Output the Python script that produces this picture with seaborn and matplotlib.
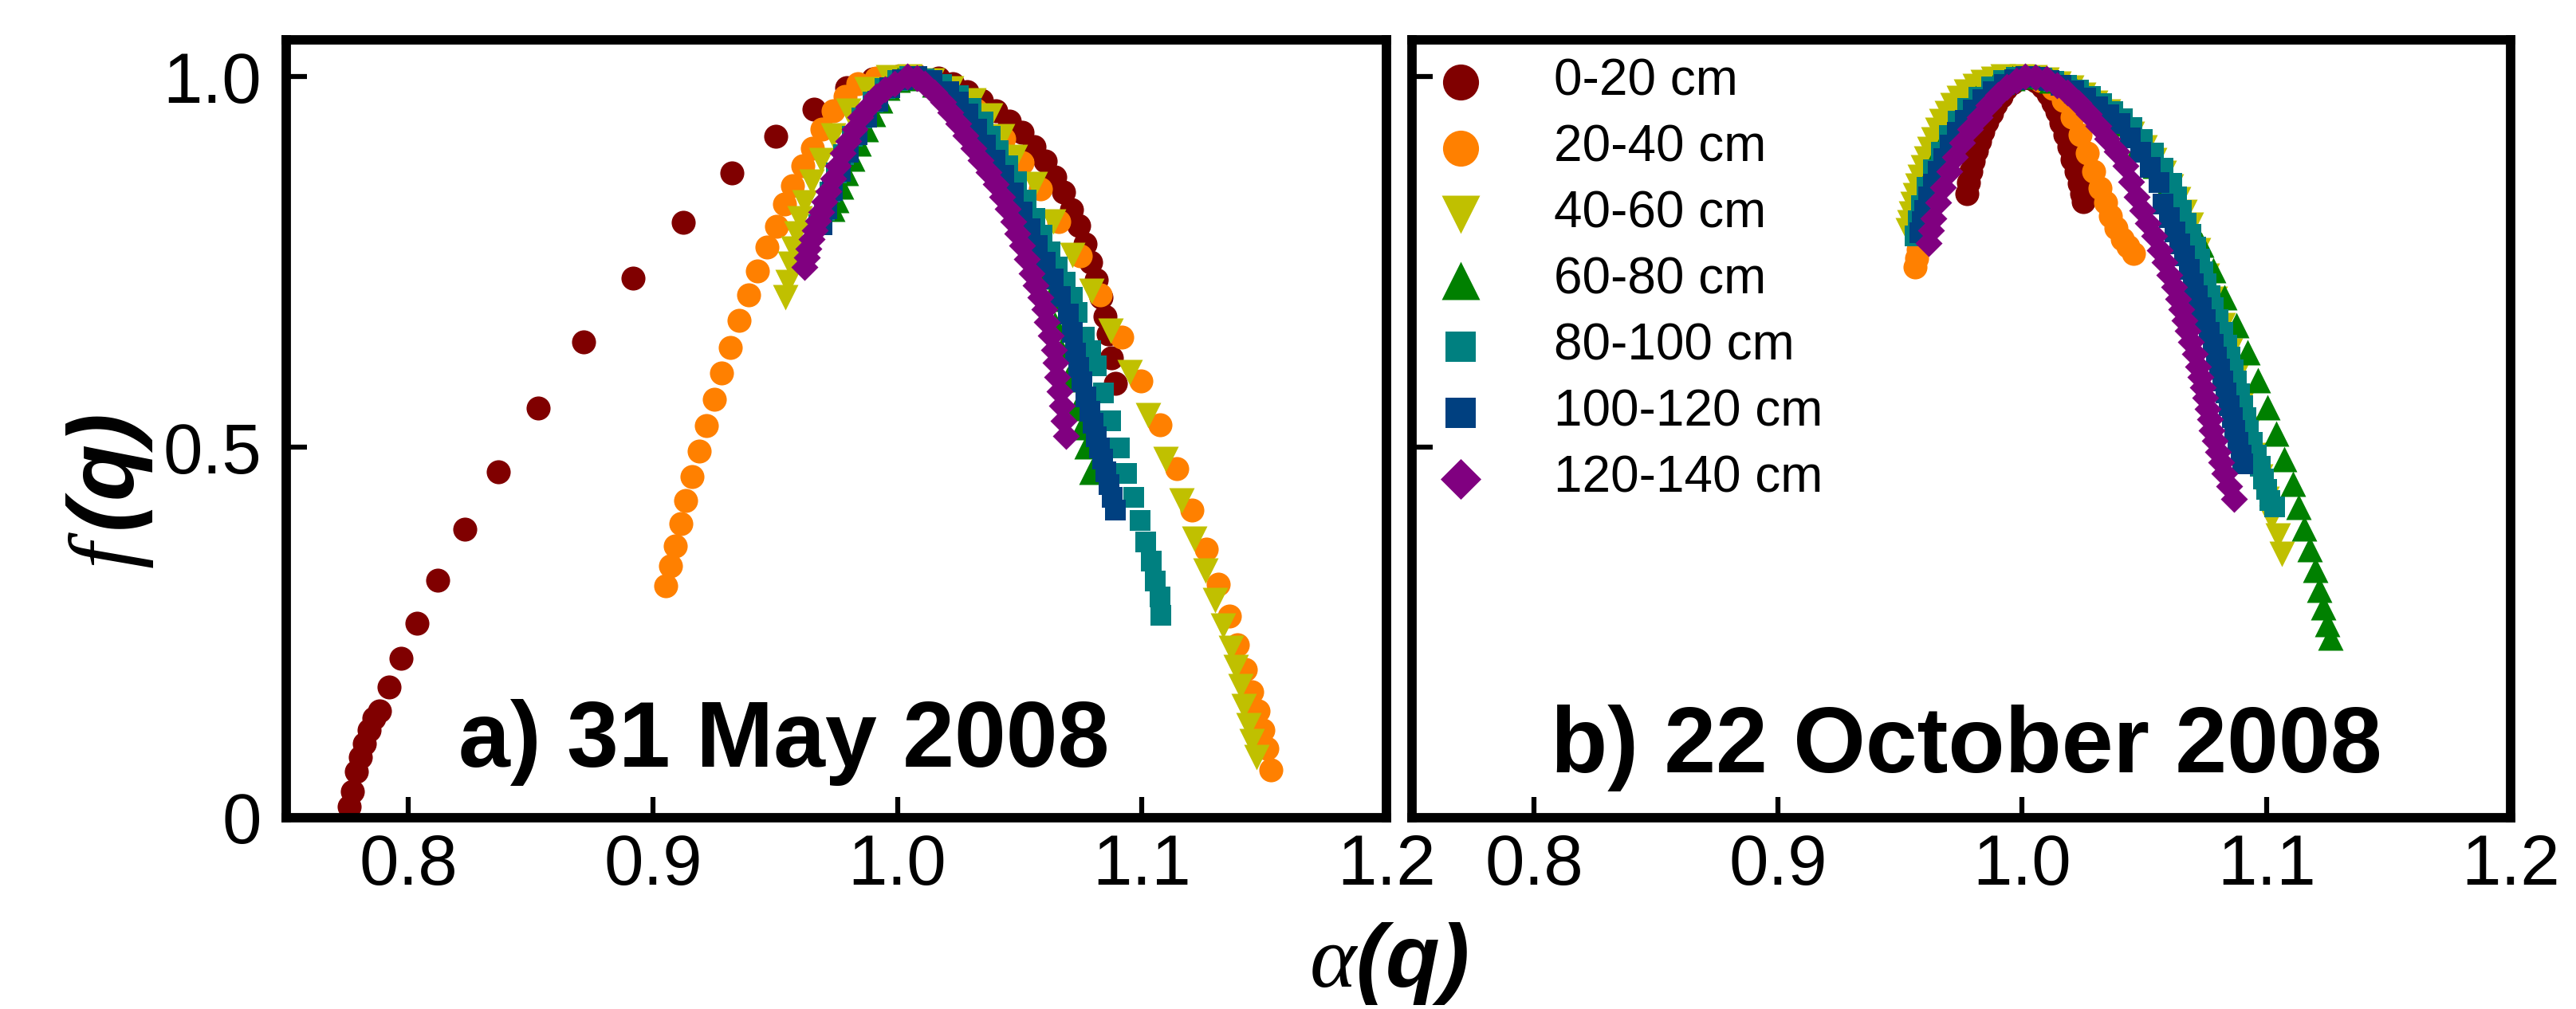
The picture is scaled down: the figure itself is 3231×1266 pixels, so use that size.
import pandas as pd
import seaborn as sns
import matplotlib
matplotlib.use("Agg")
import matplotlib.pyplot as plt

depths = ["0-20 cm", "20-40 cm", "40-60 cm", "60-80 cm", "80-100 cm", "100-120 cm", "120-140 cm"]
colors = ["#800000", "#FF8000", "#C0C000", "#008000", "#008080", "#004080", "#800080"]
markers = ["o", "o", "v", "^", "s", "s", "D"]
marker_area = [470, 470, 530, 530, 340, 340, 300]

x_ticks = [0.8, 0.9, 1.0, 1.1, 1.2]
x_tick_labels = ["0.8", "0.9", "1.0", "1.1", "1.2"]
y_ticks = [0, 0.5, 1.0]
y_tick_labels = ["0", "0.5", "1.0"]

# ---- a) 31 May 2008 ----
may_alpha_0_20 = [0.7757, 0.7772, 0.7788, 0.7803, 0.7819, 0.7839, 0.7858, 0.7882, 0.7920, 0.7969,
                  0.8036, 0.8120, 0.8231, 0.8368, 0.8531, 0.8718, 0.8919, 0.9125, 0.9323, 0.9503,
                  0.9660, 0.9793, 0.9900, 1.0000, 1.0085, 1.0168, 1.0227, 1.0285, 1.0344, 1.0403,
                  1.0458, 1.0510, 1.0559, 1.0605, 1.0644, 1.0680, 1.0713, 1.0742, 1.0768, 1.0791,
                  1.0814, 1.0833, 1.0850, 1.0863, 1.0876, 1.0892]
may_f_0_20 = [0.015, 0.036, 0.062, 0.082, 0.100, 0.118, 0.134, 0.144, 0.176, 0.215,
              0.263, 0.321, 0.389, 0.467, 0.553, 0.642, 0.728, 0.804, 0.870, 0.920,
              0.956, 0.985, 0.997, 1.000, 1.000, 0.998, 0.991, 0.980, 0.968, 0.954,
              0.940, 0.925, 0.906, 0.886, 0.865, 0.844, 0.821, 0.799, 0.775, 0.750,
              0.726, 0.702, 0.677, 0.653, 0.621, 0.586]

may_alpha_20_40 = [0.9053, 0.9072, 0.9090, 0.9114, 0.9134, 0.9161, 0.9189, 0.9219, 0.9250, 0.9282,
                   0.9317, 0.9353, 0.9390, 0.9428, 0.9465, 0.9504, 0.9537, 0.9572, 0.9612, 0.9652,
                   0.9693, 0.9737, 0.9787, 0.9837, 0.9912, 1.0000, 1.0105, 1.0205, 1.0320, 1.0436,
                   1.0511, 1.0586, 1.0661, 1.0748, 1.0829, 1.0918, 1.0997, 1.1073, 1.1144, 1.1204,
                   1.1263, 1.1312, 1.1357, 1.1390, 1.1423, 1.1449, 1.1476, 1.1495, 1.1511, 1.1528]
may_f_20_40 = [0.313, 0.340, 0.367, 0.397, 0.428, 0.460, 0.495, 0.529, 0.565, 0.600,
               0.635, 0.671, 0.706, 0.738, 0.770, 0.798, 0.828, 0.853, 0.880, 0.904,
               0.929, 0.954, 0.974, 0.991, 0.998, 1.000, 0.996, 0.985, 0.955, 0.917,
               0.884, 0.849, 0.805, 0.758, 0.706, 0.649, 0.590, 0.530, 0.471, 0.415,
               0.363, 0.315, 0.272, 0.233, 0.200, 0.170, 0.144, 0.118, 0.094, 0.064]

may_alpha_40_60 = [0.9540, 0.9550, 0.9562, 0.9575, 0.9587, 0.9600, 0.9619, 0.9650, 0.9687, 0.9737,
                   0.9799, 0.9874, 0.9962, 1.0050, 1.0140, 1.0220, 1.0311, 1.0380, 1.0430, 1.0480,
                   1.0561, 1.0636, 1.0717, 1.0795, 1.0871, 1.0951, 1.1026, 1.1096, 1.1161, 1.1213,
                   1.1259, 1.1299, 1.1331, 1.1364, 1.1384, 1.1403, 1.1417, 1.1436, 1.1449, 1.1469]
may_f_40_60 = [0.702, 0.723, 0.748, 0.768, 0.789, 0.809, 0.830, 0.859, 0.888, 0.921,
               0.954, 0.983, 0.999, 1.000, 0.995, 0.984, 0.968, 0.948, 0.920, 0.892,
               0.855, 0.805, 0.760, 0.711, 0.657, 0.601, 0.543, 0.484, 0.428, 0.376,
               0.333, 0.294, 0.259, 0.229, 0.203, 0.177, 0.151, 0.125, 0.103, 0.082]

may_alpha_60_80 = [0.9735, 0.9750, 0.9770, 0.9790, 0.9815, 0.9840, 0.9870, 0.9900, 0.9930, 0.9960,
                   1.0000, 1.0040, 1.0090, 1.0150, 1.0210, 1.0270, 1.0330, 1.0380, 1.0425, 1.0465,
                   1.0500, 1.0530, 1.0555, 1.0580, 1.0605, 1.0625, 1.0645, 1.0670, 1.0696, 1.0735,
                   1.0755, 1.0774, 1.0794]
may_f_60_80 = [0.822, 0.834, 0.852, 0.870, 0.890, 0.910, 0.930, 0.950, 0.968, 0.985,
               0.996, 1.000, 0.998, 0.990, 0.977, 0.960, 0.940, 0.917, 0.893, 0.868,
               0.842, 0.815, 0.788, 0.760, 0.730, 0.700, 0.666, 0.630, 0.592, 0.553,
               0.527, 0.501, 0.467]

may_alpha_80_100 = [0.9680, 0.9700, 0.9725, 0.9750, 0.9780, 0.9815, 0.9855, 0.9900, 0.9950, 1.0000,
                    1.0050, 1.0110, 1.0180, 1.0250, 1.0300, 1.0349, 1.0380, 1.0411, 1.0450, 1.0486,
                    1.0525, 1.0561, 1.0592, 1.0623, 1.0655, 1.0686, 1.0715, 1.0735, 1.0765, 1.0790,
                    1.0814, 1.0842, 1.0873, 1.0908, 1.0938, 1.0967, 1.0993, 1.1017, 1.1037, 1.1056,
                    1.1073, 1.1076]
may_f_80_100 = [0.800, 0.820, 0.845, 0.870, 0.895, 0.920, 0.945, 0.966, 0.984, 0.995,
                1.000, 0.997, 0.990, 0.975, 0.958, 0.939, 0.920, 0.900, 0.880, 0.859,
                0.834, 0.809, 0.786, 0.764, 0.743, 0.723, 0.702, 0.682, 0.649, 0.630,
                0.610, 0.573, 0.536, 0.499, 0.465, 0.432, 0.401, 0.372, 0.346, 0.320,
                0.298, 0.273]

may_alpha_100_120 = [0.9690, 0.9710, 0.9735, 0.9765, 0.9800, 0.9835, 0.9875, 0.9920, 0.9970, 1.0020,
                     1.0080, 1.0140, 1.0210, 1.0250, 1.0287, 1.0325, 1.0361, 1.0400, 1.0436, 1.0475,
                     1.0511, 1.0542, 1.0573, 1.0605, 1.0636, 1.0667, 1.0698, 1.0715, 1.0729, 1.0742,
                     1.0755, 1.0770, 1.0788, 1.0800, 1.0814, 1.0827, 1.0840, 1.0853, 1.0866, 1.0878,
                     1.0890]
may_f_100_120 = [0.800, 0.822, 0.847, 0.873, 0.898, 0.922, 0.946, 0.967, 0.985, 0.996,
                 1.000, 0.995, 0.980, 0.966, 0.950, 0.929, 0.908, 0.888, 0.867, 0.843,
                 0.818, 0.795, 0.772, 0.750, 0.727, 0.704, 0.680, 0.655, 0.627, 0.608,
                 0.588, 0.568, 0.549, 0.532, 0.514, 0.499, 0.484, 0.467, 0.450, 0.432,
                 0.415]

may_alpha_120_140 = [0.9619, 0.9628, 0.9637, 0.9650, 0.9662, 0.9675, 0.9687, 0.9702, 0.9718, 0.9737,
                     0.9756, 0.9777, 0.9799, 0.9824, 0.9849, 0.9880, 0.9912, 0.9950, 0.9987, 1.0040,
                     1.0080, 1.0112, 1.0150, 1.0187, 1.0218, 1.0249, 1.0280, 1.0311, 1.0342, 1.0373,
                     1.0402, 1.0430, 1.0452, 1.0473, 1.0492, 1.0511, 1.0530, 1.0548, 1.0567, 1.0586,
                     1.0600, 1.0612, 1.0626, 1.0640, 1.0648, 1.0655, 1.0664, 1.0672, 1.0681, 1.0690]
may_f_120_140 = [0.743, 0.756, 0.768, 0.781, 0.793, 0.806, 0.818, 0.832, 0.846, 0.863,
                 0.880, 0.897, 0.913, 0.930, 0.946, 0.960, 0.974, 0.983, 0.991, 1.000,
                 0.998, 0.991, 0.979, 0.966, 0.952, 0.937, 0.921, 0.904, 0.888, 0.871,
                 0.855, 0.838, 0.822, 0.805, 0.789, 0.772, 0.754, 0.735, 0.719, 0.702,
                 0.686, 0.669, 0.651, 0.632, 0.614, 0.595, 0.576, 0.556, 0.536, 0.515]

# ---- b) 22 October 2008 ----
oct_alpha_0_20 = [0.9772, 0.9780, 0.9790, 0.9800, 0.9812, 0.9825, 0.9840, 0.9856, 0.9873, 0.9892,
                  0.9912, 0.9934, 0.9958, 0.9982, 1.0006, 1.0032, 1.0058, 1.0083, 1.0105, 1.0125,
                  1.0143, 1.0160, 1.0176, 1.0191, 1.0205, 1.0219, 1.0232, 1.0243, 1.0251]
oct_f_0_20 = [0.842, 0.857, 0.872, 0.886, 0.900, 0.913, 0.926, 0.939, 0.951, 0.963,
              0.974, 0.984, 0.992, 0.998, 1.000, 0.998, 0.994, 0.987, 0.977, 0.965,
              0.953, 0.938, 0.922, 0.906, 0.889, 0.872, 0.856, 0.842, 0.832]

oct_alpha_20_40 = [0.9560, 0.9566, 0.9573, 0.9581, 0.9592, 0.9605, 0.9620, 0.9638, 0.9660, 0.9686,
                   0.9716, 0.9752, 0.9795, 0.9845, 0.9900, 0.9960, 1.0020, 1.0075, 1.0125, 1.0168,
                   1.0205, 1.0237, 1.0266, 1.0292, 1.0317, 1.0340, 1.0362, 1.0385, 1.0410, 1.0433,
                   1.0455]
oct_f_20_40 = [0.743, 0.755, 0.767, 0.780, 0.795, 0.812, 0.830, 0.850, 0.872, 0.895,
               0.918, 0.940, 0.961, 0.979, 0.992, 0.999, 1.000, 0.995, 0.984, 0.968,
               0.946, 0.922, 0.897, 0.873, 0.850, 0.830, 0.812, 0.796, 0.781, 0.771,
               0.762]

oct_alpha_40_60 = [0.9531, 0.9538, 0.9545, 0.9552, 0.9560, 0.9570, 0.9580, 0.9592, 0.9605, 0.9620,
                   0.9635, 0.9652, 0.9670, 0.9692, 0.9715, 0.9742, 0.9770, 0.9805, 0.9840, 0.9880,
                   0.9920, 0.9960, 1.0000, 1.0050, 1.0100, 1.0150, 1.0200, 1.0250, 1.0300, 1.0350,
                   1.0400, 1.0450, 1.0500, 1.0540, 1.0580, 1.0610, 1.0640, 1.0665, 1.0690, 1.0720,
                   1.0755, 1.0790, 1.0820, 1.0850, 1.0875, 1.0900, 1.0925, 1.0950, 1.0975, 1.1000,
                   1.1020, 1.1046, 1.1062]
oct_f_40_60 = [0.793, 0.804, 0.815, 0.828, 0.840, 0.853, 0.865, 0.878, 0.890, 0.903,
               0.915, 0.928, 0.940, 0.951, 0.962, 0.972, 0.980, 0.988, 0.993, 0.997,
               1.000, 0.999, 1.000, 0.999, 0.996, 0.991, 0.985, 0.976, 0.965, 0.953,
               0.940, 0.923, 0.905, 0.888, 0.870, 0.852, 0.835, 0.818, 0.800, 0.766,
               0.732, 0.700, 0.665, 0.630, 0.595, 0.560, 0.525, 0.490, 0.460, 0.430,
               0.405, 0.381, 0.356]

oct_alpha_60_80 = [0.9570, 0.9585, 0.9605, 0.9630, 0.9660, 0.9700, 0.9750, 0.9810, 0.9880, 0.9960,
                   1.0050, 1.0120, 1.0220, 1.0320, 1.0405, 1.0480, 1.0545, 1.0598, 1.0640, 1.0673,
                   1.0734, 1.0783, 1.0827, 1.0877, 1.0921, 1.0964, 1.1004, 1.1039, 1.1074, 1.1108,
                   1.1133, 1.1155, 1.1176, 1.1199, 1.1218, 1.1233, 1.1249, 1.1261]
oct_f_60_80 = [0.800, 0.825, 0.850, 0.875, 0.900, 0.925, 0.950, 0.972, 0.988, 0.998,
               1.000, 0.995, 0.982, 0.962, 0.937, 0.908, 0.880, 0.855, 0.830, 0.805,
               0.774, 0.739, 0.702, 0.665, 0.628, 0.591, 0.554, 0.519, 0.484, 0.451,
               0.420, 0.391, 0.362, 0.335, 0.308, 0.284, 0.261, 0.243]

oct_alpha_80_100 = [0.9562, 0.9575, 0.9587, 0.9610, 0.9637, 0.9668, 0.9700, 0.9737, 0.9775, 0.9822,
                    0.9874, 0.9924, 0.9974, 1.0030, 1.0080, 1.0130, 1.0180, 1.0230, 1.0280, 1.0325,
                    1.0370, 1.0410, 1.0448, 1.0492, 1.0536, 1.0575, 1.0611, 1.0632, 1.0652, 1.0671,
                    1.0690, 1.0709, 1.0727, 1.0740, 1.0752, 1.0768, 1.0783, 1.0802, 1.0821, 1.0837,
                    1.0852, 1.0865, 1.0877, 1.0890, 1.0902, 1.0915, 1.0927, 1.0943, 1.0958, 1.0974,
                    1.0989, 1.1002, 1.1014, 1.1033]
oct_f_80_100 = [0.785, 0.806, 0.826, 0.851, 0.875, 0.898, 0.921, 0.940, 0.958, 0.973,
                0.987, 0.995, 0.999, 1.000, 0.998, 0.994, 0.989, 0.982, 0.974, 0.964,
                0.953, 0.943, 0.932, 0.915, 0.897, 0.877, 0.856, 0.838, 0.820, 0.803,
                0.787, 0.770, 0.754, 0.737, 0.721, 0.705, 0.688, 0.672, 0.655, 0.638,
                0.622, 0.605, 0.589, 0.572, 0.556, 0.540, 0.523, 0.507, 0.490, 0.474,
                0.457, 0.443, 0.428, 0.420]

oct_alpha_100_120 = [0.9580, 0.9590, 0.9600, 0.9615, 0.9635, 0.9655, 0.9680, 0.9705, 0.9735, 0.9765,
                     0.9800, 0.9840, 0.9880, 0.9925, 0.9970, 1.0015, 1.0060, 1.0110, 1.0160, 1.0210,
                     1.0260, 1.0310, 1.0355, 1.0399, 1.0443, 1.0486, 1.0524, 1.0561, 1.0577, 1.0602,
                     1.0627, 1.0646, 1.0665, 1.0684, 1.0702, 1.0718, 1.0734, 1.0750, 1.0765, 1.0781,
                     1.0796, 1.0809, 1.0821, 1.0834, 1.0846, 1.0859, 1.0871, 1.0884, 1.0896, 1.0902]
oct_f_100_120 = [0.790, 0.805, 0.820, 0.838, 0.855, 0.872, 0.890, 0.908, 0.925, 0.941,
                 0.955, 0.969, 0.980, 0.990, 0.996, 1.000, 0.999, 0.995, 0.989, 0.981,
                 0.971, 0.960, 0.949, 0.937, 0.918, 0.898, 0.878, 0.857, 0.828, 0.810,
                 0.791, 0.775, 0.758, 0.740, 0.721, 0.705, 0.688, 0.672, 0.655, 0.639,
                 0.622, 0.606, 0.589, 0.573, 0.556, 0.540, 0.523, 0.507, 0.490, 0.478]

oct_alpha_120_140 = [0.9618, 0.9627, 0.9637, 0.9655, 0.9675, 0.9700, 0.9725, 0.9755, 0.9787, 0.9824,
                     0.9862, 0.9900, 0.9937, 0.9975, 1.0012, 1.0055, 1.0099, 1.0143, 1.0186, 1.0230,
                     1.0274, 1.0312, 1.0349, 1.0387, 1.0424, 1.0447, 1.0470, 1.0493, 1.0515, 1.0540,
                     1.0565, 1.0584, 1.0602, 1.0621, 1.0640, 1.0653, 1.0665, 1.0678, 1.0690, 1.0706,
                     1.0721, 1.0731, 1.0740, 1.0749, 1.0758, 1.0768, 1.0777, 1.0790, 1.0802, 1.0815,
                     1.0827, 1.0847, 1.0867]
oct_f_120_140 = [0.776, 0.793, 0.809, 0.830, 0.851, 0.872, 0.892, 0.911, 0.929, 0.946,
                 0.962, 0.976, 0.987, 0.995, 1.000, 0.999, 0.997, 0.989, 0.979, 0.965,
                 0.950, 0.934, 0.917, 0.899, 0.880, 0.859, 0.838, 0.820, 0.803, 0.785,
                 0.766, 0.750, 0.733, 0.717, 0.700, 0.686, 0.671, 0.657, 0.642, 0.626,
                 0.609, 0.595, 0.581, 0.567, 0.552, 0.538, 0.523, 0.509, 0.494, 0.480,
                 0.465, 0.448, 0.430]


def build_frame(series, panel):
    parts = []
    for depth, (alpha, f) in zip(depths, series):
        parts.append(pd.DataFrame({"alpha": alpha, "f": f, "depth": depth, "panel": panel}))
    return pd.concat(parts, ignore_index=True)


def main():
    may = build_frame([
        (may_alpha_0_20, may_f_0_20), (may_alpha_20_40, may_f_20_40),
        (may_alpha_40_60, may_f_40_60), (may_alpha_60_80, may_f_60_80),
        (may_alpha_80_100, may_f_80_100), (may_alpha_100_120, may_f_100_120),
        (may_alpha_120_140, may_f_120_140)], "may")
    octo = build_frame([
        (oct_alpha_0_20, oct_f_0_20), (oct_alpha_20_40, oct_f_20_40),
        (oct_alpha_40_60, oct_f_40_60), (oct_alpha_60_80, oct_f_60_80),
        (oct_alpha_80_100, oct_f_80_100), (oct_alpha_100_120, oct_f_100_120),
        (oct_alpha_120_140, oct_f_120_140)], "oct")
    df = pd.concat([may, octo], ignore_index=True)

    sns.set_theme(style="ticks")
    plt.rcParams["font.family"] = ["Liberation Sans", "DejaVu Sans"]
    plt.rcParams["text.color"] = "black"
    plt.rcParams["axes.labelcolor"] = "black"
    plt.rcParams["mathtext.fontset"] = "custom"
    plt.rcParams["mathtext.rm"] = "Liberation Sans"
    plt.rcParams["mathtext.it"] = "Liberation Serif:italic"
    plt.rcParams["mathtext.bf"] = "Liberation Sans:bold:italic"

    fig = plt.figure(figsize=(32.31, 12.66), dpi=100)
    ax_a = fig.add_axes([0.1111, 0.1896, 0.4271, 0.7709])
    ax_b = fig.add_axes([0.5481, 0.1896, 0.4265, 0.7709])

    for ax, panel in [(ax_a, "may"), (ax_b, "oct")]:
        for i, depth in enumerate(depths):
            sub = df[(df["panel"] == panel) & (df["depth"] == depth)]
            sns.scatterplot(data=sub, x="alpha", y="f", color=colors[i], marker=markers[i],
                            s=marker_area[i], linewidth=0, ax=ax, legend=False,
                            label=depth if panel == "oct" else None)
        ax.set_xlim(0.75, 1.2)
        ax.set_ylim(0, 1.05)
        ax.set_xticks(x_ticks)
        ax.set_xticklabels(x_tick_labels)
        ax.set_yticks(y_ticks)
        ax.set_xlabel("")
        ax.set_ylabel("")
        for sp in ax.spines.values():
            sp.set_visible(True)
            sp.set_linewidth(8.5)
            sp.set_color("black")
        ax.tick_params(axis="both", direction="in", length=19, width=4.5, labelsize=64,
                       color="black", labelcolor="black")
        ax.tick_params(axis="x", pad=14)
        ax.tick_params(axis="y", pad=22)

    ax_a.set_yticklabels(y_tick_labels)
    ax_b.set_yticklabels([])

    ax_a.text(0.1565, 0.0656, "a) 31 May 2008", transform=ax_a.transAxes, color="black",
              fontsize=84, fontweight="bold", va="baseline", ha="left")
    ax_b.text(0.1266, 0.0584, "b) 22 October 2008", transform=ax_b.transAxes, color="black",
              fontsize=84, fontweight="bold", va="baseline", ha="left")

    ax_b.legend(loc="upper left", bbox_to_anchor=(0.021, 0.977), borderaxespad=0,
                borderpad=0, frameon=False, handlelength=1.0, handletextpad=1.33,
                labelspacing=0.36, markerscale=1.5, fontsize=46, labelcolor="black")

    fig.text(0.0427, 0.513, r"$f\,\mathbf{(q)}$", rotation=90, fontsize=84,
             ha="center", va="center", color="black")
    fig.text(0.539, 0.022, r"$\alpha\mathbf{(q)}$", fontsize=80,
             ha="center", va="baseline", color="black")

    fig.savefig("out.png", dpi=100)
    plt.close(fig)


if __name__ == "__main__":
    main()
